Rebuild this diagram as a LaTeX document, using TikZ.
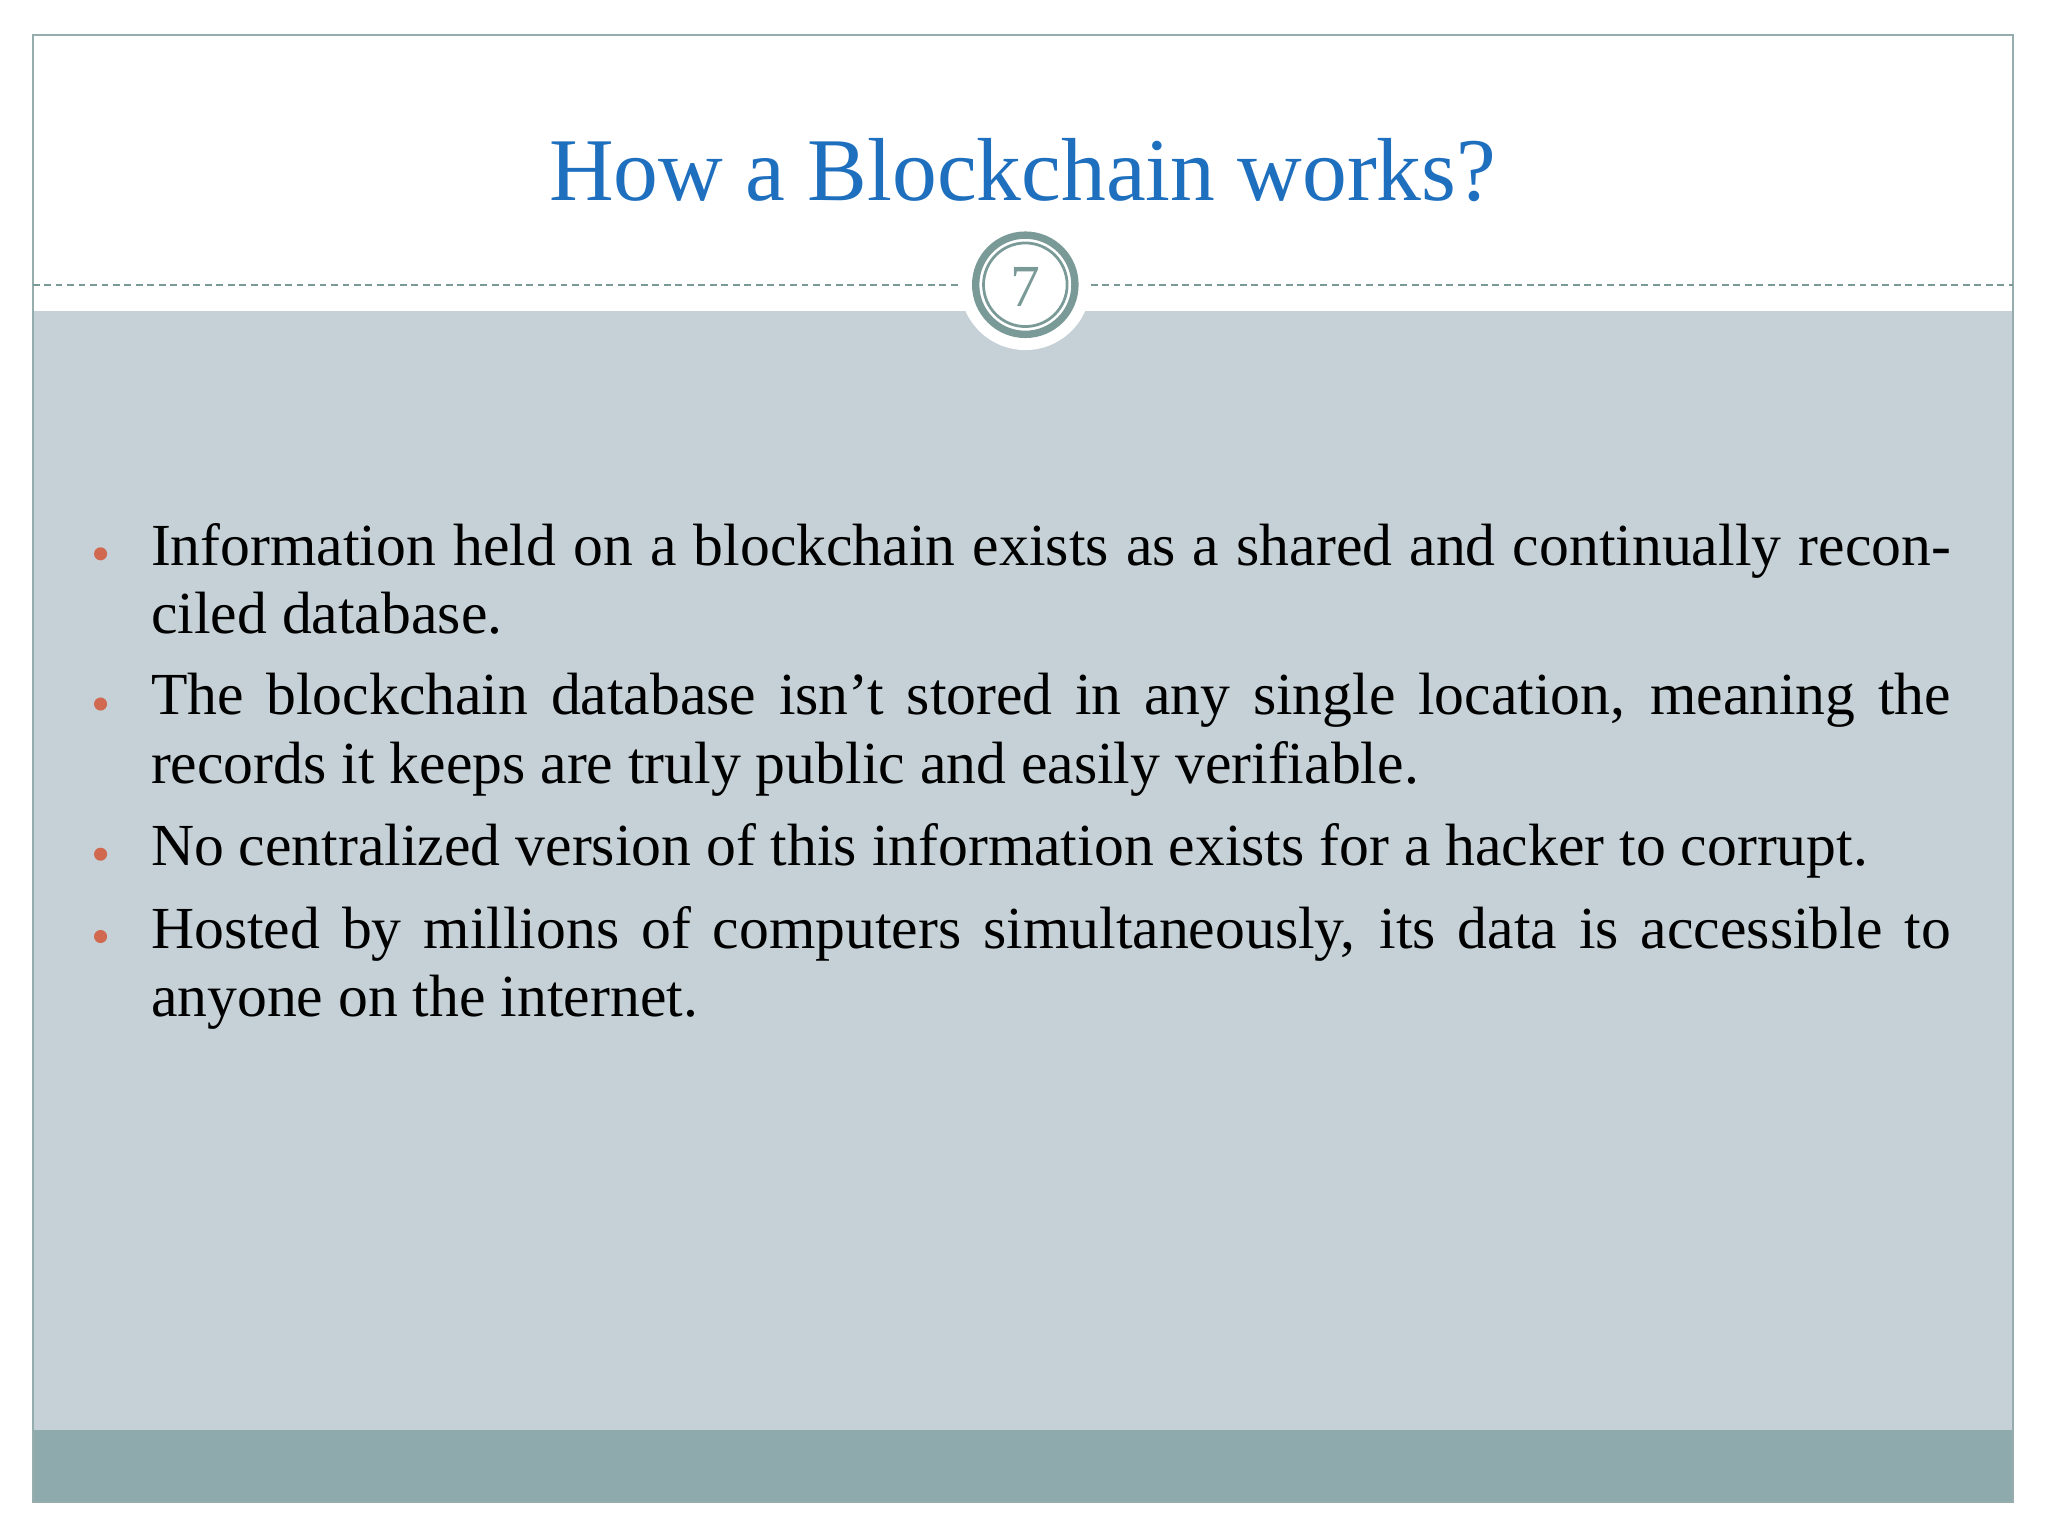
\documentclass[tikz,border=0pt]{standalone}
\usepackage{fontspec}
\setmainfont{Liberation Serif}
\definecolor{bodybg}{HTML}{C5D1D6}
\definecolor{footbg}{HTML}{8FAAAD}
\definecolor{ringc}{HTML}{7A9A98}
\definecolor{titlec}{HTML}{1F6FBF}
\definecolor{bulc}{HTML}{D0694F}
\begin{document}
\begin{tikzpicture}[x=0.1mm,y=-0.1mm,
  bodytext/.style={anchor=north west,text width=13.78cm,align=justify,font=\fontsize{13}{14.9}\selectfont,inner sep=0pt},
  bul/.style={circle,fill=bulc,inner sep=0pt,minimum size=1.0mm}]
\useasboundingbox (0,0) rectangle (1568,1176);
\fill[white] (0,0) rectangle (1568,1176);
\fill[bodybg] (25,238) rectangle (1541,1095);
\fill[footbg] (25,1095) rectangle (1541,1150);
\draw[ringc!80,line width=0.4pt] (25,27) rectangle (1541,1150);
\draw[ringc,dashed,line width=0.4pt,dash pattern=on 1.5pt off 1pt] (25,218) -- (735,218);
\draw[ringc,dashed,line width=0.4pt,dash pattern=on 1.5pt off 1pt] (835,218) -- (1541,218);
\fill[white] (785,218) circle (50);
\draw[ringc,line width=1.6pt] (785,218) circle (38);
\draw[ringc,line width=0.6pt] (785,218) circle (32);
\node[text=ringc,font=\fontsize{13}{14}\selectfont] (num) at (785,220) {7};
\node[text=titlec,font=\fontsize{19.5}{22}\selectfont] (title) at (783,130) {How a Blockchain works?};
\node[bodytext] (b1) at (115,400) {Information held on a blockchain exists as a shared and continually reconciled database.};
\node[bodytext] (b2) at (115,515) {The blockchain database isn’t stored in any single location, meaning the records it keeps are truly public and easily verifiable.};
\node[bodytext] (b3) at (115,630) {No centralized version of this information exists for a hacker to corrupt.};
\node[bodytext] (b4) at (115,693) {Hosted by millions of computers simultaneously, its data is accessible to anyone on the internet.};
\node[bul] (d1) at (77,424) {};
\node[bul] (d2) at (77,539) {};
\node[bul] (d3) at (77,654) {};
\node[bul] (d4) at (77,717) {};
\end{tikzpicture}
\end{document}
